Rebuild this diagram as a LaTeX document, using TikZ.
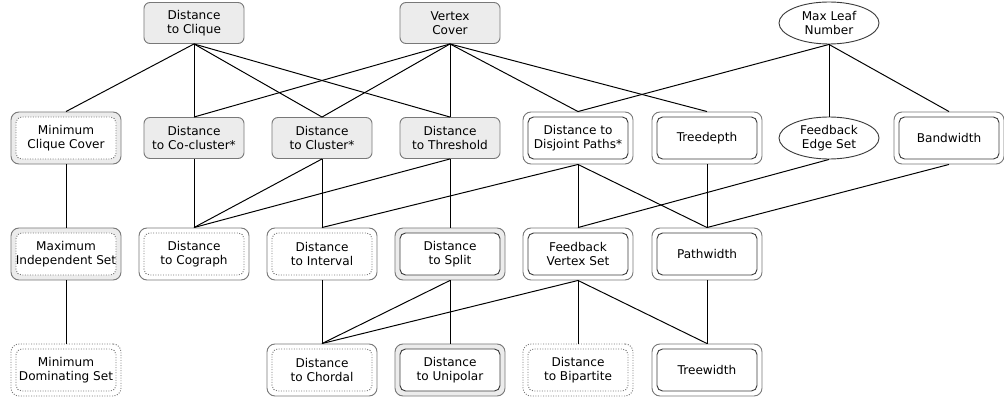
\documentclass[tikz,border=0pt]{standalone}
\usepackage{fontspec}
\setmainfont{DejaVu Sans}
\usepackage{tikz}
\usetikzlibrary{shapes.geometric}
\definecolor{boxgray}{RGB}{236,236,236}
\definecolor{linegray}{RGB}{120,120,120}
\definecolor{innerdark}{RGB}{60,60,60}
\tikzset{x=0.025cm,y=-0.025cm,
  param/.style={align=center,inner sep=0pt,line width=0.65pt,font=\fontsize{8.6}{10.2}\selectfont},
  dots/.style={dash pattern=on 0.7pt off 1.1pt},
  flatbox/.style={param,draw=linegray,fill=boxgray,rounded corners=0.15cm,minimum width=2.5cm,minimum height=1.025cm},
  ovalbox/.style={param,ellipse,draw=innerdark,fill=white,minimum width=2.5cm,minimum height=1.05cm},
  twinbox/.style 2 args={param,draw=linegray,#1,rounded corners=0.2cm,minimum width=2.75cm,minimum height=1.3cm,
    path picture={\draw[line width=0.65pt,#2,rounded corners=0.14cm] ([shift={(0.125cm,0.125cm)}]path picture bounding box.south west) rectangle ([shift={(-0.125cm,-0.125cm)}]path picture bounding box.north east);}},
  graytwin/.style={twinbox={fill=boxgray}{solid,draw=innerdark,fill=white}},
  whitetwin/.style={twinbox={fill=white}{solid,draw=innerdark}},
  graydot/.style={twinbox={fill=boxgray}{dots,draw=linegray,fill=white}},
  whitedot/.style={twinbox={fill=white}{dots,draw=linegray}},
  dotdot/.style={twinbox={fill=white,dots}{dots,draw=linegray}},
  every edge/.style={draw,black,line width=0.7pt}
}
\begin{document}
\begin{tikzpicture}
\useasboundingbox (0,0) rectangle (1004,400);
% top row
\node[flatbox] (clique) at (194,23) {Distance\\to Clique};
\node[flatbox] (vc) at (450,23) {Vertex\\Cover};
\node[ovalbox] (mln) at (829,23) {Max Leaf\\Number};
% second row
\node[graydot] (mcc) at (66,138) {Minimum\\Clique Cover};
\node[flatbox] (cocl) at (194,138) {Distance\\to Co-cluster*};
\node[flatbox] (clus) at (322,138) {Distance\\to Cluster*};
\node[flatbox] (thr) at (450,138) {Distance\\to Threshold};
\node[whitetwin] (djp) at (578,138) {Distance to\\Disjoint Paths*};
\node[whitetwin] (td) at (707,138) {Treedepth};
\node[ovalbox] (fes) at (829,138) {Feedback\\Edge Set};
\node[whitetwin] (bw) at (949,138) {Bandwidth};
% third row
\node[graydot] (mis) at (66,254) {Maximum\\Independent Set};
\node[whitedot] (cog) at (194,254) {Distance\\to Cograph};
\node[whitedot] (intv) at (322,254) {Distance\\to Interval};
\node[graytwin] (split) at (450,254) {Distance\\to Split};
\node[whitetwin] (fvs) at (578,254) {Feedback\\Vertex Set};
\node[whitetwin] (pw) at (707,254) {Pathwidth};
% bottom row
\node[dotdot] (mds) at (66,370) {Minimum\\Dominating Set};
\node[whitedot] (chord) at (322,370) {Distance\\to Chordal};
\node[graytwin] (unip) at (450,370) {Distance\\to Unipolar};
\node[dotdot] (bip) at (578,370) {Distance\\to Bipartite};
\node[whitetwin] (tw) at (707,370) {Treewidth};
% connections
\path (clique.south) edge (mcc.north);
\path (clique.south) edge (cocl.north);
\path (clique.south) edge (clus.north);
\path (clique.south) edge (thr.north);
\path (vc.south) edge (cocl.north);
\path (vc.south) edge (clus.north);
\path (vc.south) edge (thr.north);
\path (vc.south) edge (djp.north);
\path (vc.south) edge (td.north);
\path (mln.south) edge (djp.north);
\path (mln.south) edge (fes.north);
\path (mln.south) edge (bw.north);
\path (mcc.south) edge (mis.north);
\path (cocl.south) edge (cog.north);
\path (clus.south) edge (cog.north);
\path (clus.south) edge (intv.north);
\path (thr.south) edge (cog.north);
\path (thr.south) edge (split.north);
\path (djp.south) edge (intv.north);
\path (djp.south) edge (fvs.north);
\path (djp.south) edge (pw.north);
\path (td.south) edge (pw.north);
\path (fes.south) edge (fvs.north);
\path (bw.south) edge (pw.north);
\path (mis.south) edge (mds.north);
\path (intv.south) edge (chord.north);
\path (split.south) edge (chord.north);
\path (split.south) edge (unip.north);
\path (fvs.south) edge (chord.north);
\path (fvs.south) edge (bip.north);
\path (fvs.south) edge (tw.north);
\path (pw.south) edge (tw.north);
\end{tikzpicture}
\end{document}
